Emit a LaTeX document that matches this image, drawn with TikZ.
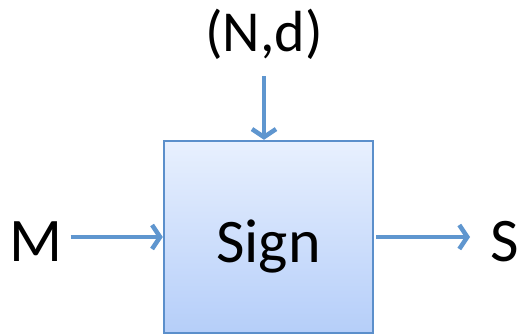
\documentclass[tikz,border=0pt]{standalone}
\usepackage{fontspec}
\setmainfont{Carlito}
\usetikzlibrary{arrows.meta}
\definecolor{boxtop}{HTML}{E8F0FE}
\definecolor{boxbot}{HTML}{B5CEF9}
\definecolor{boxline}{HTML}{5B8FCB}
\definecolor{arrowblue}{HTML}{5F96CF}
\begin{document}
\begin{tikzpicture}[x=1pt, y=1pt, line width=4.5pt,
  main box/.style={draw=boxline, line width=2.4pt, top color=boxtop, bottom color=boxbot, minimum width=209pt, minimum height=192pt, inner sep=0pt, font=\fontsize{62}{62}\selectfont, text height=52pt, text depth=0pt},
  big label/.style={inner sep=0pt, font=\fontsize{62}{62}\selectfont},
  flow/.style={draw=arrowblue, -{Straight Barb[length=8pt, width=24pt]}, line join=round}]
\useasboundingbox (0,0) rectangle (520,335);
\node [main box](box) at (268.5,98) {Sign};
\node [big label, anchor=base west](M) at (7,73) {M};
\node [big label, anchor=base west](S) at (488,73) {S};
\node [big label, font=\fontsize{58}{58}\selectfont, anchor=base](Nd) at (264,283) {(N,d)};
\draw [flow, shorten <=6pt] (M.east |- box.west) -- (box.west);
\draw [flow, shorten <=2pt, shorten >=18pt] (box.east) -- (S.west |- box.east);
\draw [flow, shorten <=14pt] (Nd.south) -- (Nd.south |- box.north);
\end{tikzpicture}
\end{document}
